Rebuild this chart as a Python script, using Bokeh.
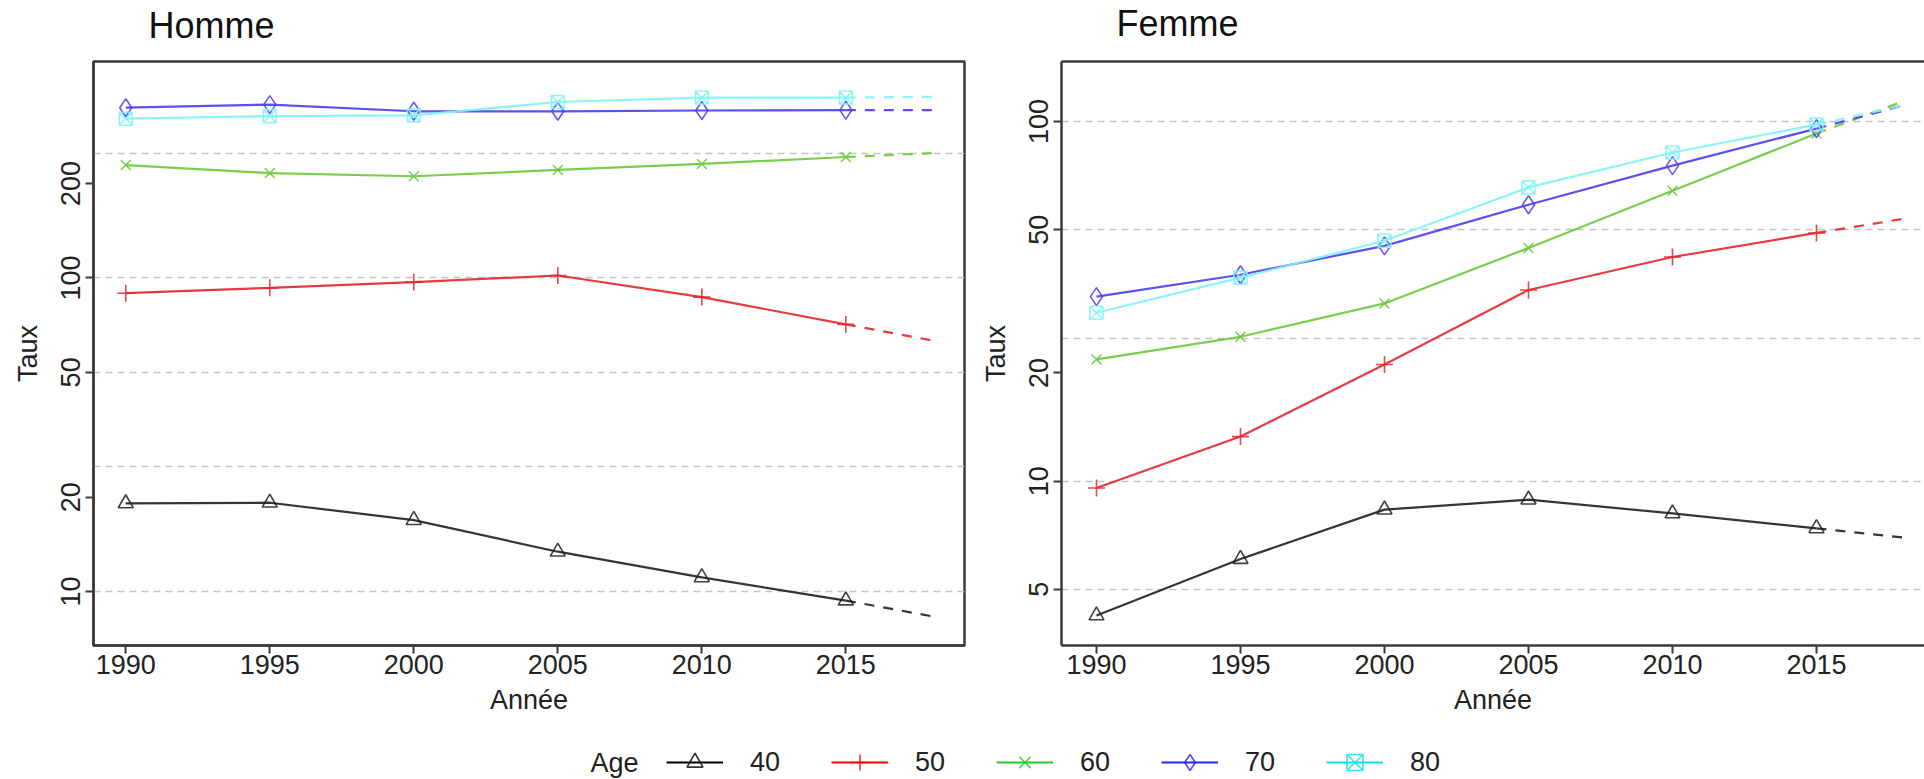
from bokeh.plotting import figure
from bokeh.models import (Range1d, FixedTicker, NumeralTickFormatter, LinearAxis,
                          Legend, LegendItem, Label)
from bokeh.layouts import row, column
from bokeh.embed import file_html
from bokeh.resources import INLINE

# ---------------- data ----------------
years = [1990, 1995, 2000, 2005, 2010, 2015]
proj_years = [2015, 2018]
ages = ["40", "50", "60", "70", "80"]

homme_40 = [19.1, 19.2, 16.9, 13.4, 11.1, 9.36]
homme_50 = [89.4, 93.0, 97.0, 101.8, 86.9, 71.1]
homme_60 = [229, 216, 211, 221, 231, 243]
homme_70 = [349, 357, 340, 340, 342, 343]
homme_80 = [322, 328, 330, 364, 376, 376]
homme_proj_2018 = [8.34, 63.2, 250, 343, 378]

femme_40 = [4.23, 6.07, 8.33, 8.88, 8.13, 7.39]
femme_50 = [9.57, 13.3, 21.1, 34.0, 42.0, 49.0]
femme_60 = [21.8, 25.2, 31.2, 44.5, 64.2, 92.6]
femme_70 = [32.6, 37.5, 45.1, 58.7, 75.4, 95.6]
femme_80 = [29.4, 36.8, 46.6, 65.6, 82.0, 98.1]
femme_proj_2018 = [6.97, 53.6, 113.7, 110.8, 110.8]

homme_ticks = [10, 20, 50, 100, 200]
homme_grid = [10, 25, 50, 100, 250]
femme_ticks = [5, 10, 20, 50, 100]
femme_grid = [5, 10, 25, 50, 100]

panel_titles = ["Homme", "Femme"]

# ---------------- style ----------------
FONT = "Liberation Sans"
TXT = "#222222"
FRAME = "#3a3a3a"
colors = {"40": "#1f1f1f", "50": "#e3262c", "60": "#6cc93a", "70": "#4a3cf2", "80": "#7ff3f6"}
leg_colors = {"40": "#000000", "50": "#ff0000", "60": "#22cc22", "70": "#2222ff", "80": "#00e5ee"}
markers = {"40": "triangle", "50": "cross", "60": "x", "70": "diamond", "80": "square_x"}
msize = {"40": 15, "50": 17, "60": 14, "70": 18, "80": 13}

W = 1924
TITLE_H = 50
PLOT_H = 670
TOP = 11
FRAME_H = 584
LEG_H = 779 - TITLE_H - PLOT_H


def make_panel(series, proj, yr, ticks, grid, xr, width, mbl, mbr, cut_right):
    p = figure(width=width, height=PLOT_H, y_axis_type="log",
               x_range=Range1d(*xr), y_range=Range1d(*yr),
               toolbar_location=None, output_backend="svg",
               min_border_left=mbl, min_border_right=mbr,
               min_border_top=TOP, min_border_bottom=PLOT_H - TOP - FRAME_H)
    p.background_fill_color = "white"
    p.border_fill_color = "white"
    p.xgrid.visible = False
    p.ygrid.ticker = FixedTicker(ticks=grid)
    p.ygrid.grid_line_color = "#c4c4c4"
    p.ygrid.grid_line_dash = "7 5"
    p.ygrid.grid_line_width = 1.6

    xax = p.below[0]
    yax = p.left[0]
    xax.ticker = FixedTicker(ticks=years)
    yax.ticker = FixedTicker(ticks=ticks)
    yax.formatter = NumeralTickFormatter(format="0")
    yax.major_label_orientation = "vertical"
    xax.axis_label = "Année"
    yax.axis_label = "Taux"
    for ax in (xax, yax):
        ax.axis_line_color = FRAME
        ax.axis_line_width = 2.5
        ax.major_tick_line_color = FRAME
        ax.major_tick_line_width = 2
        ax.major_tick_out = 8
        ax.major_tick_in = 0
        ax.minor_tick_line_color = None
        ax.major_label_text_font = FONT
        ax.major_label_text_font_size = "27px"
        ax.major_label_text_color = TXT
        ax.axis_label_text_font = FONT
        ax.axis_label_text_font_size = "27px"
        ax.axis_label_text_font_style = "normal"
        ax.axis_label_text_color = TXT
    xax.major_label_standoff = 1
    xax.axis_label_standoff = 8
    yax.major_label_standoff = 5
    yax.axis_label_standoff = 16

    if cut_right:
        # panel is cut by the page edge: box drawn on three sides only
        p.outline_line_color = None
        top = LinearAxis(ticker=FixedTicker(ticks=[]), major_tick_line_color=None,
                         minor_tick_line_color=None, major_tick_out=0, major_tick_in=0,
                         minor_tick_out=0, minor_tick_in=0,
                         major_label_text_font_size="0px", major_label_standoff=0,
                         axis_label_standoff=0, axis_line_color=FRAME, axis_line_width=2.5)
        p.add_layout(top, "above")
    else:
        p.outline_line_color = FRAME
        p.outline_line_width = 2.5
        p.outline_line_alpha = 1.0

    for i, age in enumerate(ages):
        vals = series[age]
        c = colors[age]
        p.line(years, vals, line_color=c, line_width=2.2, line_alpha=0.9)
        p.line(proj_years, [vals[-1], proj[i]], line_color=c, line_width=2.2,
               line_alpha=0.9, line_dash="10 9")
        p.scatter(years, vals, marker=markers[age], size=msize[age], line_color=c,
                  fill_color=None, line_width=1.6, line_alpha=0.85)
    return p


def strip(height):
    s = figure(width=W, height=height, x_range=Range1d(0, 1), y_range=Range1d(0, 1),
               toolbar_location=None, output_backend="svg", min_border=0)
    s.axis.visible = False
    s.grid.visible = False
    s.outline_line_color = None
    return s


homme = {"40": homme_40, "50": homme_50, "60": homme_60, "70": homme_70, "80": homme_80}
femme = {"40": femme_40, "50": femme_50, "60": femme_60, "70": femme_70, "80": femme_80}

p1 = make_panel(homme, homme_proj_2018, (6.73, 490), homme_ticks, homme_grid,
                (1988.88, 2019.12), 969, 93, 5, False)
p2 = make_panel(femme, femme_proj_2018, (3.49, 146.9), femme_ticks, femme_grid,
                (1988.785, 2018.75), 955, 92, 0, True)

# ---------------- panel headings ----------------
head = strip(TITLE_H)
for txt, sx, mid in zip(panel_titles, [148, 1116], [25, 23]):
    head.add_layout(Label(x=sx, y=TITLE_H - mid, x_units="screen", y_units="screen",
                          text=txt, text_font=FONT, text_font_size="36px",
                          text_color="#111111", text_align="left",
                          text_baseline="middle"))

# ---------------- legend strip ----------------
# the series themselves feed the legend swatches; the strip's ranges keep them out of view
leg = strip(LEG_H)
items = []
for age in ages:
    r1 = leg.line(years, femme[age], line_color=leg_colors[age], line_width=2)
    r2 = leg.scatter(years, femme[age], marker=markers[age], line_color=leg_colors[age],
                     fill_color=None, line_width=1.6, line_alpha=0.8)
    items.append(LegendItem(label=age, renderers=[r1, r2]))
CY = 17  # legend row centre, px from strip bottom
legend = Legend(items=items, orientation="horizontal", location=(666, CY - 20),
                glyph_width=57, glyph_height=40, label_height=40, label_standoff=27,
                label_width=33, spacing=48, padding=0, margin=0,
                border_line_color=None, background_fill_alpha=0,
                label_text_font=FONT, label_text_font_size="27px", label_text_color=TXT)
leg.add_layout(legend)
leg.add_layout(Label(x=638, y=CY, x_units="screen", y_units="screen", text="Age",
                     text_align="right", text_baseline="middle",
                     text_font=FONT, text_font_size="27px", text_color=TXT))

layout = column(head, row(p1, p2), leg)
open("out.html", "w").write(file_html(layout, INLINE))
